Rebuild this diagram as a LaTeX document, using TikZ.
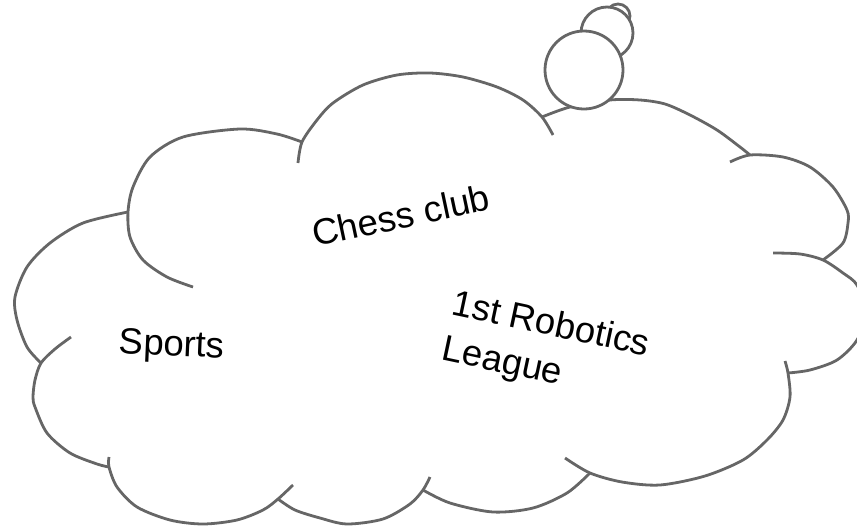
\documentclass[tikz,border=0pt]{standalone}
\usepackage{fontspec}
\setmainfont{Liberation Sans}
\definecolor{cloudgray}{RGB}{102,102,102}
\tikzset{
  cloudline/.style={draw=cloudgray, line width=2.8pt},
  bubble/.style={draw=cloudgray, line width=2.8pt, fill=white},
  lbl/.style={inner sep=0pt, text=black, font=\fontsize{36.5}{46.5}\selectfont}
}
\begin{document}
\begin{tikzpicture}[x=1pt, y=-1pt]
\clip (0,0) rectangle (857,528);
% cloud outline, bump by bump
\draw[cloudline] plot[smooth, tension=0.5] coordinates {(193,287) (167,277) (143,260) (130,237) (128,212) (133,187) (150,157) (183,137) (240,129) (277,134) (302,142)};
\draw[cloudline] plot[smooth, tension=0.5] coordinates {(298,163) (302,142) (317,120) (333,103) (363,85) (397,75) (430,73) (463,77) (497,87) (523,100) (542,117) (553,135)};
\draw[cloudline] plot[smooth, tension=0.5] coordinates {(542,117) (570,107) (610,100) (640,100) (665,104) (690,115) (717,130) (740,147) (750,155)};
\draw[cloudline] plot[smooth, tension=0.5] coordinates {(730,162) (750,155) (783,157) (810,167) (833,187) (847,210) (848,223) (843,243) (823,260)};
\draw[cloudline] plot[smooth, tension=0.5] coordinates {(773,253) (800,254) (823,260) (843,273) (857,285) (866,312) (857,340) (837,360) (810,370) (788,373)};
\draw[cloudline] plot[smooth, tension=0.5] coordinates {(785,361) (788,373) (790,397) (783,420) (767,440) (743,460) (705,476) (660,485) (622,482) (590,473) (565,458)};
\draw[cloudline] plot[smooth, tension=0.5] coordinates {(590,473) (567,493) (533,508) (493,512) (450,503) (423,490)};
\draw[cloudline] plot[smooth, tension=0.5] coordinates {(278,499) (295,510) (320,518) (347,524) (383,519) (410,504) (423,490) (430,477)};
\draw[cloudline] plot[smooth, tension=0.5] coordinates {(109,457) (109,467) (117,487) (137,507) (170,520) (203,524) (237,520) (263,510) (278,499) (293,485)};
\draw[cloudline] plot[smooth, tension=0.5] coordinates {(71,337) (55,349) (41,363) (35,380) (33,397) (35,407) (47,433) (70,453) (97,464) (109,467)};
\draw[cloudline] plot[smooth, tension=0.5] coordinates {(128,212) (83,223) (50,243) (27,267) (15,297) (17,320) (27,347) (41,363)};
% thought bubbles
\draw[bubble] (618,16) circle[radius=12pt];
\draw[bubble] (607,33) circle[radius=26pt];
\draw[bubble] (584,70) circle[radius=39pt];
% labels
\node[lbl, anchor=base] (sports) at (171.5,355.5) [rotate=-2.5] {Sports};
\node[lbl, anchor=base west] (chess) at (315,247) [rotate=12] {Chess club};
\node[lbl, anchor=base west, align=left] (robotics) at (440.5,359.7) [rotate=-12] {1st Robotics\\League};
\end{tikzpicture}
\end{document}
